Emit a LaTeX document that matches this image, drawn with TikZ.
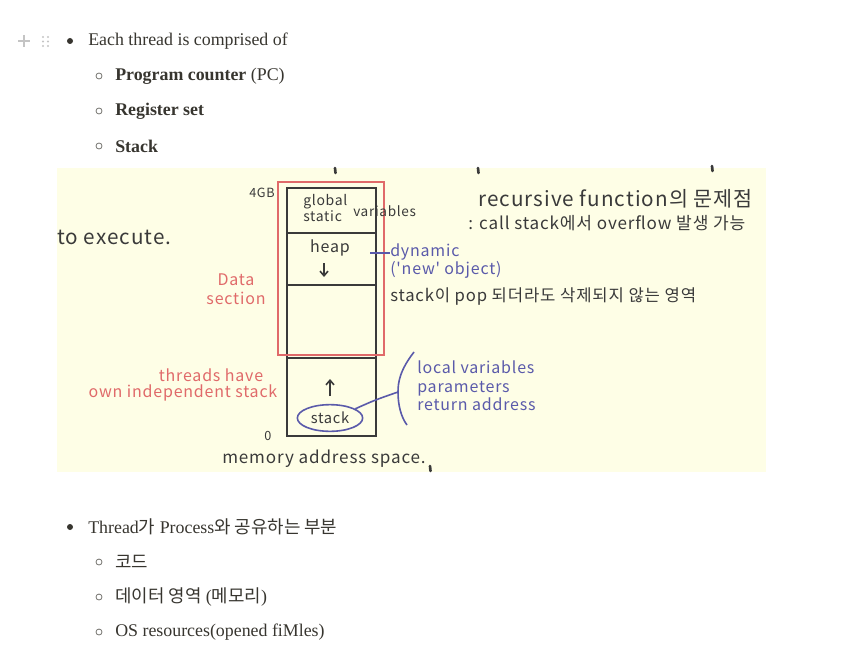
\documentclass[tikz,border=0pt]{standalone}
\usepackage{fontspec}
\setmainfont{Liberation Serif}
\newfontfamily\krfont{Noto Sans CJK KR}
\newfontfamily\handfont[LetterSpace=5]{Noto Sans CJK KR}
\usetikzlibrary{positioning,calc,shapes.geometric,arrows.meta}
\definecolor{cInk}{HTML}{37352F}
\definecolor{cPaper}{HTML}{FEFEE6}
\definecolor{cPen}{HTML}{3A3A3A}
\definecolor{cRed}{HTML}{E06A6A}
\definecolor{cBlue}{HTML}{5A5AAA}
\definecolor{cGrip}{HTML}{C4C4C4}
\tikzset{
  item/.style={anchor=west, inner sep=0pt, text=cInk, font=\fontsize{13.4}{15}\selectfont},
  bdot/.style={circle, fill=cInk, inner sep=0pt, minimum size=4.5pt},
  bring/.style={circle, draw=cInk!70, line width=0.6pt, inner sep=0pt, minimum size=4.5pt},
  hand/.style={anchor=west, inner sep=0pt, text=cPen, font=\handfont\fontsize{12}{14}\selectfont},
  handsm/.style={hand, font=\handfont\fontsize{9.5}{11}\selectfont},
  handlg/.style={hand, font=\handfont\fontsize{15.5}{17}\selectfont},
  redh/.style={hand, text=cRed, align=center, anchor=center},
  blueh/.style={hand, text=cBlue},
  pen/.style={draw=cPen, line width=1.8pt},
  penarrow/.style={draw=cPen, line width=1.2pt, -{Straight Barb[length=3.5pt,width=6pt]}},
}
\begin{document}
\begin{tikzpicture}[x=0.75pt,y=-0.75pt]
\useasboundingbox (0,0) rectangle (848,656);

% ------------------------------------------------------------ editor handle
\draw[cGrip, line width=1pt] (18,41) -- (30,41) (24,35) -- (24,47);
\foreach \gx in {43,48}
  \foreach \gy in {37,41.5,46}
    \fill[cGrip] (\gx,\gy) circle (1.1);

% ------------------------------------------------------------ first list
\node[bdot] (b1) at (70,41) {};
\node[item] (t1) at (88,41) {Each thread is comprised of};
\foreach \yy/\txt [count=\i] in {76/{\textbf{Program counter} (PC)},
                                 111/{\textbf{Register set}},
                                 146/{\textbf{Stack}}} {
  \node[bring] (r\i) at (99,\yy) {};
  \node[item] (s\i) at (115,\yy) {\txt};
}

% ------------------------------------------------------------ the sketch
\fill[cPaper] (57,168) rectangle (766,472);
\foreach \mx/\my in {335/168, 478/168, 712/166, 430/466}
  \draw[cPen, line width=2pt, line cap=round] (\mx,\my) -- (\mx+0.5,\my+5);

% memory layout
\draw[pen] (287,188) rectangle (376,436);
\foreach \yy in {233,285,358}
  \draw[pen] (287,\yy) -- (376,\yy);
\draw[cRed, line width=1.5pt] (278,182) rectangle (384,355);

\node[handsm, anchor=center] (top) at (262,193) {4GB};
\node[handsm, anchor=center] (bot) at (268,436) {0};
\node[handsm, align=left, font=\handfont\fontsize{10.5}{12}\selectfont] (glb) at (303,208) {global\\static};
\node[hand, font=\handfont\fontsize{10.2}{12}\selectfont] (var) at (353,211) {variables};
\node[hand, anchor=center] (hp) at (330,248) {heap};
\draw[penarrow] (324,263) -- (324,277);
\node[handlg] (exe) at (57,237) {to execute.};
\node[redh] (dsec) at (236,289) {Data\\section};
\node[redh] (thr) at (211,375) {threads have};
\node[redh] (own) at (183,393) {own independent stack};

% heap notes
\coordinate (hpr) at (370,253);
\node[blueh, align=left] (dyn) at (390,261) {dynamic\\('new' object)};
\draw[cBlue, line width=1.2pt] (hpr) -- (dyn.west |- hpr);
\node[hand, font=\handfont\fontsize{12.5}{14}\selectfont] (pop) at (390,297) {stack이 pop 되더라도 삭제되지 않는 영역};

% recursion note
\node[handlg] (rec) at (478,199) {recursive function의 문제점};
\node[hand, font=\handfont\fontsize{12.8}{14}\selectfont] (ovf) at (468,223) {: call stack에서 overflow 발생 가능};

% stack cell
\draw[penarrow] (330,396) -- (330,379);
\node[ellipse, draw=cBlue, line width=1.2pt, minimum width=49pt, minimum height=20pt,
      inner sep=0pt, font=\handfont\fontsize{11}{13}\selectfont, text=cPen] (stk) at (330,418) {stack};
\coordinate (brc) at (398,392);
\draw[cBlue, line width=1.2pt] (stk.20) .. controls (375,400) .. (brc);
\draw[cBlue, line width=1.2pt] (414,352) .. controls (400,370) and (398,382) .. (brc)
      .. controls (398,405) and (401,417) .. (407,425);
\node[blueh, align=left] (frm) at (417,386) {local variables\\parameters\\return address};

\node[hand, font=\handfont\fontsize{12.8}{14}\selectfont] (mas) at (222,459) {memory address space.};

% ------------------------------------------------------------ second list
\node[bdot] (b2) at (70,527) {};
\node[item] (t2) at (88,527) {Thread{\krfont 가} Process{\krfont 와 공유하는 부분}};
\foreach \yy/\txt [count=\i] in {562/{\krfont 코드},
                                 597/{{\krfont 데이터 영역} ({\krfont 메모리})},
                                 632/{OS resources(opened fiMles)}} {
  \node[bring] (q\i) at (99,\yy) {};
  \node[item] (u\i) at (115,\yy) {\txt};
}

\end{tikzpicture}
\end{document}
